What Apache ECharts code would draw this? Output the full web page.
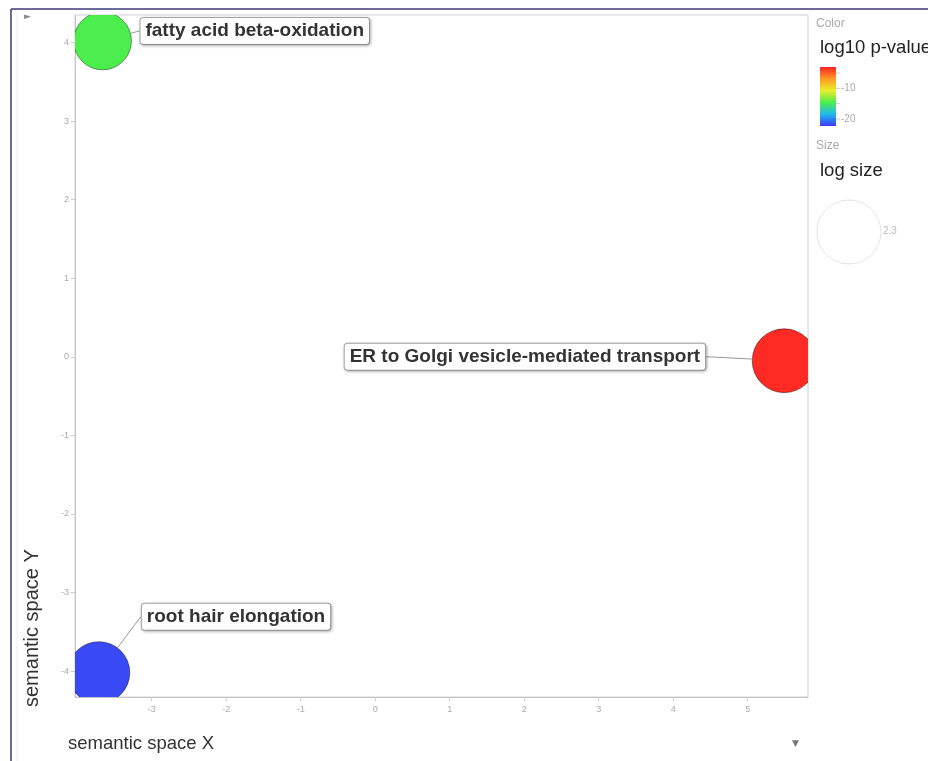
<!DOCTYPE html>
<html>
<head>
<meta charset="utf-8">
<script src="https://cdn.jsdelivr.net/npm/echarts@6/dist/echarts.min.js"></script>
<style>
  html, body { margin: 0; padding: 0; background: #ffffff; }
  #chart { width: 928px; height: 761px; }
</style>
</head>
<body>
<div id="chart"></div>
<script>
// GO terms placed in semantic space
const terms = ['fatty acid beta-oxidation', 'ER to Golgi vesicle-mediated transport', 'root hair elongation'];
const semX = [-3.66, 5.49, -3.71];
const semY = [4.02, -0.05, -4.02];
const log10p = [-14.6, -3.2, -21.9];
const logSize = [2.08, 2.30, 2.23];

// axis and legend ticks
const xTicks = [-3, -2, -1, 0, 1, 2, 3, 4, 5];
const yTicks = [-4, -3, -2, -1, 0, 1, 2, 3, 4];
const colorTickMarks = [-5, -10, -15, -20];
const colorTickLabels = [-10, -20];
const sizeTicks = [2.3];

const xRange = [-4.03, 5.81];
const yRange = [-4.33, 4.35];
const colorRange = [-22.3, -3];
const rainbow = ['#3a3cf6', '#22b8ee', '#4cee4c', '#e9ef2a', '#ff9a22', '#ff2424'];

// pixel diameter per unit of log size
const SIZE_SCALE = 27.8;

const FONT = '"Liberation Sans", Arial, sans-serif';

const chart = echarts.init(document.getElementById('chart'), null, { renderer: 'canvas' });

// colour legend geometry
const barX = 820, barY = 67, barW = 16, barH = 59;
const colorToY = v => barY + (colorRange[1] - v) / (colorRange[1] - colorRange[0]) * barH;

const graphics = [];

// outer frame
graphics.push({ type: 'line', shape: { x1: 11, y1: 9, x2: 11, y2: 761 }, style: { stroke: '#3b3b78', lineWidth: 1.5 }, silent: true });
graphics.push({ type: 'line', shape: { x1: 11, y1: 9, x2: 928, y2: 9 }, style: { stroke: '#3b3b78', lineWidth: 1.5 }, silent: true });
graphics.push({ type: 'line', shape: { x1: 17, y1: 11, x2: 17, y2: 761 }, style: { stroke: '#f0f0f0', lineWidth: 1 }, silent: true });

// small toggles
graphics.push({ type: 'text', left: 24, top: 12, style: { text: '\u25BA', fill: '#888', font: '9px "DejaVu Sans"' } });
graphics.push({ type: 'text', left: 792, top: 739, style: { text: '\u25BC', fill: '#777', font: '9px "DejaVu Sans"' } });

// axis titles
graphics.push({ type: 'text', left: 68, top: 734, style: { text: 'semantic space X', fill: '#333', font: '18.5px ' + FONT } });
graphics.push({
  type: 'text', x: 22, y: 707, rotation: Math.PI / 2,
  style: { text: 'semantic space Y', fill: '#333', font: '20px ' + FONT, align: 'left', verticalAlign: 'top' }
});

// colour legend
graphics.push({ type: 'text', left: 816, top: 18, style: { text: 'Color', fill: '#aaa', font: '12px ' + FONT } });
graphics.push({ type: 'text', left: 820, top: 38, style: { text: 'log10 p-value', fill: '#222', font: '18.5px ' + FONT } });
graphics.push({
  type: 'rect', shape: { x: barX, y: barY, width: barW, height: barH },
  style: {
    fill: new echarts.graphic.LinearGradient(0, 1, 0, 0,
      rainbow.map((c, i) => ({ offset: i / (rainbow.length - 1), color: c })))
  }, silent: true
});
colorTickMarks.forEach(v => {
  const y = colorToY(v);
  graphics.push({ type: 'line', shape: { x1: barX + barW, y1: y, x2: barX + barW + 4, y2: y }, style: { stroke: '#ccc', lineWidth: 1 }, silent: true });
});
colorTickLabels.forEach(v => {
  graphics.push({ type: 'text', x: barX + barW + 5, y: colorToY(v), style: { text: String(v), fill: '#aaa', font: '10px ' + FONT, verticalAlign: 'middle' } });
});

// size legend
graphics.push({ type: 'text', left: 816, top: 140, style: { text: 'Size', fill: '#aaa', font: '12px ' + FONT } });
graphics.push({ type: 'text', left: 820, top: 161, style: { text: 'log size', fill: '#222', font: '18.5px ' + FONT } });
sizeTicks.forEach(s => {
  const r = s * SIZE_SCALE / 2;
  graphics.push({ type: 'circle', shape: { cx: 849, cy: 232, r: r }, style: { fill: 'none', stroke: '#e4e4e4', lineWidth: 1 }, silent: true });
  graphics.push({ type: 'text', x: 849 + r + 2, y: 231, style: { text: String(s), fill: '#bbb', font: '10px ' + FONT, verticalAlign: 'middle' } });
});

// label offsets per term (pixels)
const labelShift = [
  { dx: 4, dy: -10 },
  { dx: -42, dy: -4 },
  { dx: 7, dy: -56 }
];
const labelPos = ['right', 'left', 'right'];

const points = terms.map((t, i) => ({
  name: t,
  value: [semX[i], semY[i], log10p[i], logSize[i]],
  label: { position: labelPos[i] }
}));

const option = {
  animation: false,
  backgroundColor: '#ffffff',
  grid: {
    left: 75, top: 15, right: 120, bottom: 64,
    show: true, borderColor: '#d0d0d0', borderWidth: 1, backgroundColor: 'transparent'
  },
  xAxis: {
    type: 'value', min: xRange[0], max: xRange[1],
    axisLine: { show: true, onZero: false, lineStyle: { color: '#c4c4c4' } },
    axisTick: { show: true, customValues: xTicks, length: 4, lineStyle: { color: '#ccc' } },
    axisLabel: { customValues: xTicks, color: '#aaa', fontSize: 9, margin: 8, fontFamily: FONT },
    splitLine: { show: false }
  },
  yAxis: {
    type: 'value', min: yRange[0], max: yRange[1],
    axisLine: { show: true, onZero: false, lineStyle: { color: '#c4c4c4' } },
    axisTick: { show: true, customValues: yTicks, length: 4, lineStyle: { color: '#ccc' } },
    axisLabel: { customValues: yTicks, color: '#aaa', fontSize: 9, margin: 6, fontFamily: FONT },
    splitLine: { show: false }
  },
  visualMap: {
    show: false, type: 'continuous', dimension: 2, seriesIndex: 0,
    min: colorRange[0], max: colorRange[1],
    inRange: { color: rainbow }
  },
  series: [
    {
      // bubbles, clipped to the plotting area
      type: 'custom',
      clip: true,
      encode: { x: 0, y: 1 },
      data: points.map(p => p.value),
      renderItem: (params, api) => {
        const pt = api.coord([api.value(0), api.value(1)]);
        const r = api.value(3) * SIZE_SCALE / 2;
        return {
          type: 'circle',
          shape: { cx: pt[0], cy: pt[1], r: r },
          style: { fill: api.visual('color'), stroke: 'rgba(0,0,0,0.4)', lineWidth: 1 }
        };
      },
      silent: true
    },
    {
      // term labels with leader lines
      type: 'scatter',
      data: points,
      symbolSize: v => v[3] * SIZE_SCALE,
      itemStyle: { color: 'rgba(0,0,0,0)', opacity: 1 },
      label: {
        show: true,
        formatter: p => p.name,
        color: '#333',
        fontFamily: FONT,
        fontWeight: 'bold',
        fontSize: 19,
        backgroundColor: '#ffffff',
        borderColor: '#a8a8a8',
        borderWidth: 1,
        borderRadius: 3,
        padding: [4, 5, 3, 5],
        shadowColor: 'rgba(0,0,0,0.25)',
        shadowBlur: 3,
        shadowOffsetX: 1,
        shadowOffsetY: 1
      },
      labelLine: { show: true, lineStyle: { color: '#999', width: 1, opacity: 1 } },
      labelLayout: p => labelShift[p.dataIndex],
      emphasis: { disabled: true }
    }
  ],
  graphic: graphics
};

chart.setOption(option);
</script>
</body>
</html>
